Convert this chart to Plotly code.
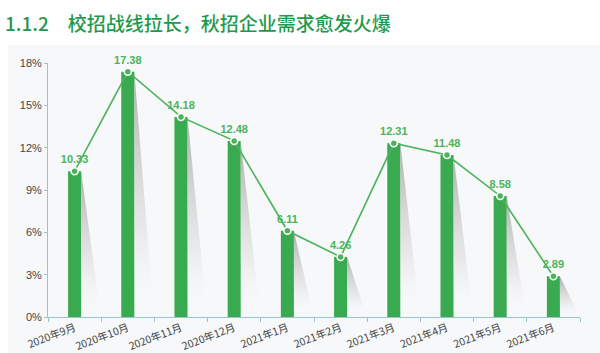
import plotly.graph_objects as go

months = ["2020年9月", "2020年10月", "2020年11月", "2020年12月", "2021年1月",
          "2021年2月", "2021年3月", "2021年4月", "2021年5月", "2021年6月"]
values = [10.33, 17.38, 14.18, 12.48, 6.11, 4.26, 12.31, 11.48, 8.58, 2.89]
y_ticks = [0, 3, 6, 9, 12, 15, 18]
y_ticktext = [f"{v}%" for v in y_ticks]

idx = list(range(len(months)))
bar_w = 0.245
shadow_dx = 0.37

BAR = "#3aaa50"
LINE = "#4cb35a"
AXIS = "#9cc4cf"

fig = go.Figure()

# decorative gradient shadows to the right of each bar (derived from values)
for i, v in zip(idx, values):
    r = i + bar_w / 2
    fig.add_trace(go.Scatter(
        x=[r, r + shadow_dx, r, r], y=[v, 0, 0, v],
        mode="lines", line=dict(width=0), fill="toself",
        fillgradient=dict(type="vertical",
                          colorscale=[[0, "rgba(255,255,255,0)"],
                                      [0.35, "rgba(215,215,215,0.45)"],
                                      [1, "rgba(165,165,165,0.9)"]]),
        hoverinfo="skip", showlegend=False))

fig.add_trace(go.Bar(x=idx, y=values, width=bar_w, marker=dict(color=BAR, line=dict(width=0)),
                     showlegend=False, hoverinfo="skip"))

fig.add_trace(go.Scatter(
    x=idx, y=values, mode="lines+markers+text",
    line=dict(color=LINE, width=1.6),
    marker=dict(size=7, color=LINE, line=dict(color="white", width=1.5)),
    text=[f"{v:.2f}" for v in values], textposition="top center",
    textfont=dict(family="Liberation Sans, Arial", size=11, color=LINE, weight="bold"),
    showlegend=False, cliponaxis=False))

fig.update_layout(
    width=600, height=353,
    margin=dict(l=48, r=20, t=63, b=36, autoexpand=False),
    paper_bgcolor="#f7f8fa", plot_bgcolor="#f7f8fa",
    title=dict(text="1.1.2\u2003校招战线拉长，秋招企业需求愈发火爆",
               x=5 / 600, xanchor="left", xref="container",
               y=1 - 24 / 353, yanchor="middle", yref="container",
               font=dict(family="Noto Sans CJK SC", size=19, color="#1f9a4c", weight=500)),
    shapes=[
        dict(type="rect", xref="paper", yref="paper", x0=-0.2, x1=1.2,
             y0=(317 - 45) / 254, y1=1.4, fillcolor="white", line=dict(width=0), layer="below"),
        dict(type="rect", xref="paper", yref="paper", x0=-0.2, x1=(8 - 48) / 532,
             y0=-0.3, y1=1.4, fillcolor="white", line=dict(width=0), layer="below"),
    ],
    font=dict(family="Liberation Sans, Arial", size=11, color="#444"),
)

fig.update_xaxes(
    range=[-0.5, 9.5], tickmode="array", tickvals=idx, ticktext=months,
    tickangle=-21, ticks="", showgrid=False, zeroline=False, automargin=False,
    showline=True, linecolor=AXIS, linewidth=1,
    tickfont=dict(family="Noto Sans CJK SC, Liberation Sans", size=10.5, color="#444"),
    minor=dict(tick0=0.5, dtick=1, ticks="outside", ticklen=4, tickcolor=AXIS, showgrid=False),
)
fig.update_yaxes(
    range=[0, 18], tickmode="array", tickvals=y_ticks, ticktext=y_ticktext,
    ticks="outside", ticklen=3, tickcolor=AXIS, showgrid=False, zeroline=False, automargin=False,
    showline=True, linecolor=AXIS, linewidth=1,
    tickfont=dict(family="Liberation Sans, Arial", size=11, color="#444"),
)

fig.write_html("out.html")
